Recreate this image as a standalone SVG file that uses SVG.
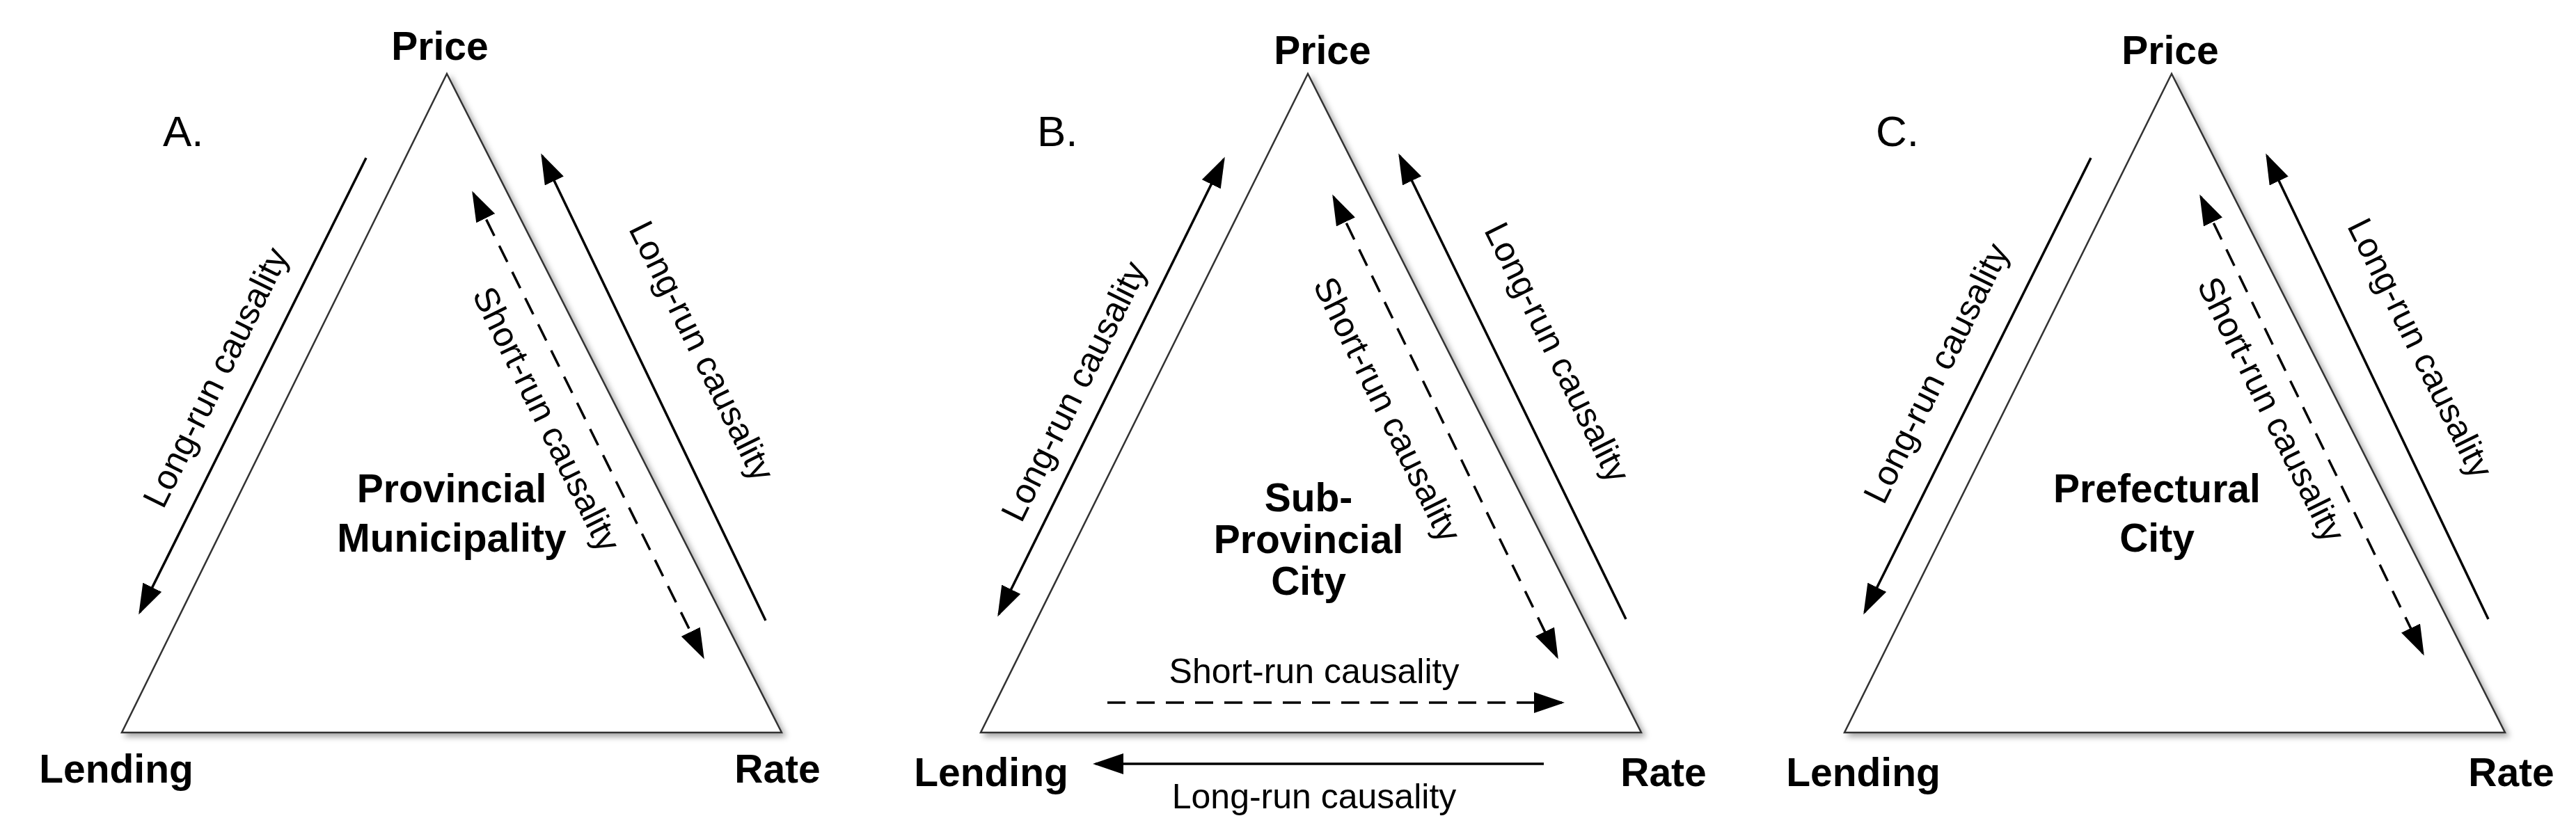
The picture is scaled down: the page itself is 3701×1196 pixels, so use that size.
<svg xmlns="http://www.w3.org/2000/svg" width="3701" height="1196" viewBox="0 0 3701 1196">
<style>
.tri{fill:#fff;stroke:#333;stroke-width:2.5;filter:url(#sh)}
.b{font-family:"Liberation Sans",Arial,sans-serif;font-weight:bold;font-size:57px;fill:#000;text-anchor:middle}
.n{font-family:"Liberation Sans",Arial,sans-serif;font-size:50px;fill:#000;text-anchor:middle}
.p{font-family:"Liberation Sans",Arial,sans-serif;font-size:62px;fill:#000}
.s{stroke:#000;stroke-width:3.5;fill:none;marker-end:url(#ah)}
.d{stroke:#000;stroke-width:3.5;fill:none;stroke-dasharray:26 16;marker-end:url(#ah);marker-start:url(#as)}
.bb{marker-start:url(#as)}
</style>
<defs>
<filter id="sh" x="-5%" y="-5%" width="115%" height="115%"><feDropShadow dx="5" dy="5" stdDeviation="4" flood-color="#000" flood-opacity="0.35"/></filter>
<marker id="ah" markerUnits="userSpaceOnUse" markerWidth="44" markerHeight="30" refX="40" refY="15" orient="auto"><path d="M0,0 L44,15 L0,30 Z" fill="#000"/></marker>
<marker id="as" markerUnits="userSpaceOnUse" markerWidth="44" markerHeight="30" refX="4" refY="15" orient="auto"><path d="M44,0 L0,15 L44,30 Z" fill="#000"/></marker>
</defs>
<g id="panelA">
<polygon class="tri" points="642,106 175,1053 1123,1053"/>
<text class="p" x="234" y="210">A.</text>
<text class="b" x="632" y="86">Price</text>
<text class="b" x="167" y="1125">Lending</text>
<text class="b" x="1117" y="1125">Rate</text>
<text class="b" x="649" y="722">Provincial</text>
<text class="b" x="649" y="793">Municipality</text>
</g>
<g id="panelB">
<polygon class="tri" points="1879,106 1409,1053 2358,1053"/>
<text class="p" x="1490" y="210">B.</text>
<text class="b" x="1900" y="92">Price</text>
<text class="b" x="1424" y="1130">Lending</text>
<text class="b" x="2390" y="1130">Rate</text>
<text class="b" x="1880" y="735">Sub-</text>
<text class="b" x="1880" y="795">Provincial</text>
<text class="b" x="1880" y="855">City</text>
</g>
<g id="panelC">
<polygon class="tri" points="3120,106 2650,1053 3599,1053"/>
<text class="p" x="2695" y="210">C.</text>
<text class="b" x="3118" y="92">Price</text>
<text class="b" x="2677" y="1130">Lending</text>
<text class="b" x="3608" y="1130">Rate</text>
<text class="b" x="3099" y="722">Prefectural</text>
<text class="b" x="3099" y="793">City</text>
</g>
<g id="connectors">
<line class="s" x1="526" y1="227" x2="201" y2="880"/>
<line class="s" x1="1100" y1="892" x2="779" y2="224"/>
<line class="d" x1="680" y1="278" x2="1010" y2="944"/>
<line class="s bb" x1="1758" y1="229" x2="1435" y2="883"/>
<line class="d" x1="1916" y1="283" x2="2237" y2="944"/>
<line class="s" x1="2336" y1="890" x2="2011" y2="224"/>
<line class="s" x1="1591" y1="1010" x2="2244" y2="1010" style="stroke-dasharray:26 16"/>
<line class="s" x1="2218" y1="1098" x2="1574" y2="1098"/>
<line class="s" x1="3004" y1="227" x2="2679" y2="880"/>
<line class="d" x1="3162" y1="283" x2="3481" y2="939"/>
<line class="s" x1="3575" y1="890" x2="3257" y2="224"/>
</g>
<g id="labels">
<text class="n" transform="translate(325,550) rotate(-63.7)">Long-run causality</text>
<text class="n" transform="translate(770,610) rotate(63.7)">Short-run causality</text>
<text class="n" transform="translate(993,512) rotate(63.7)">Long-run causality</text>
<text class="n" transform="translate(1558,570) rotate(-63.7)">Long-run causality</text>
<text class="n" transform="translate(1978,596) rotate(63.7)">Short-run causality</text>
<text class="n" transform="translate(2222,514) rotate(63.7)">Long-run causality</text>
<text class="n" x="1888" y="982">Short-run causality</text>
<text class="n" x="1888" y="1162">Long-run causality</text>
<text class="n" transform="translate(2797,544) rotate(-63.7)">Long-run causality</text>
<text class="n" transform="translate(3248,596) rotate(63.7)">Short-run causality</text>
<text class="n" transform="translate(3462,508) rotate(63.7)">Long-run causality</text>
</g>
</svg>
